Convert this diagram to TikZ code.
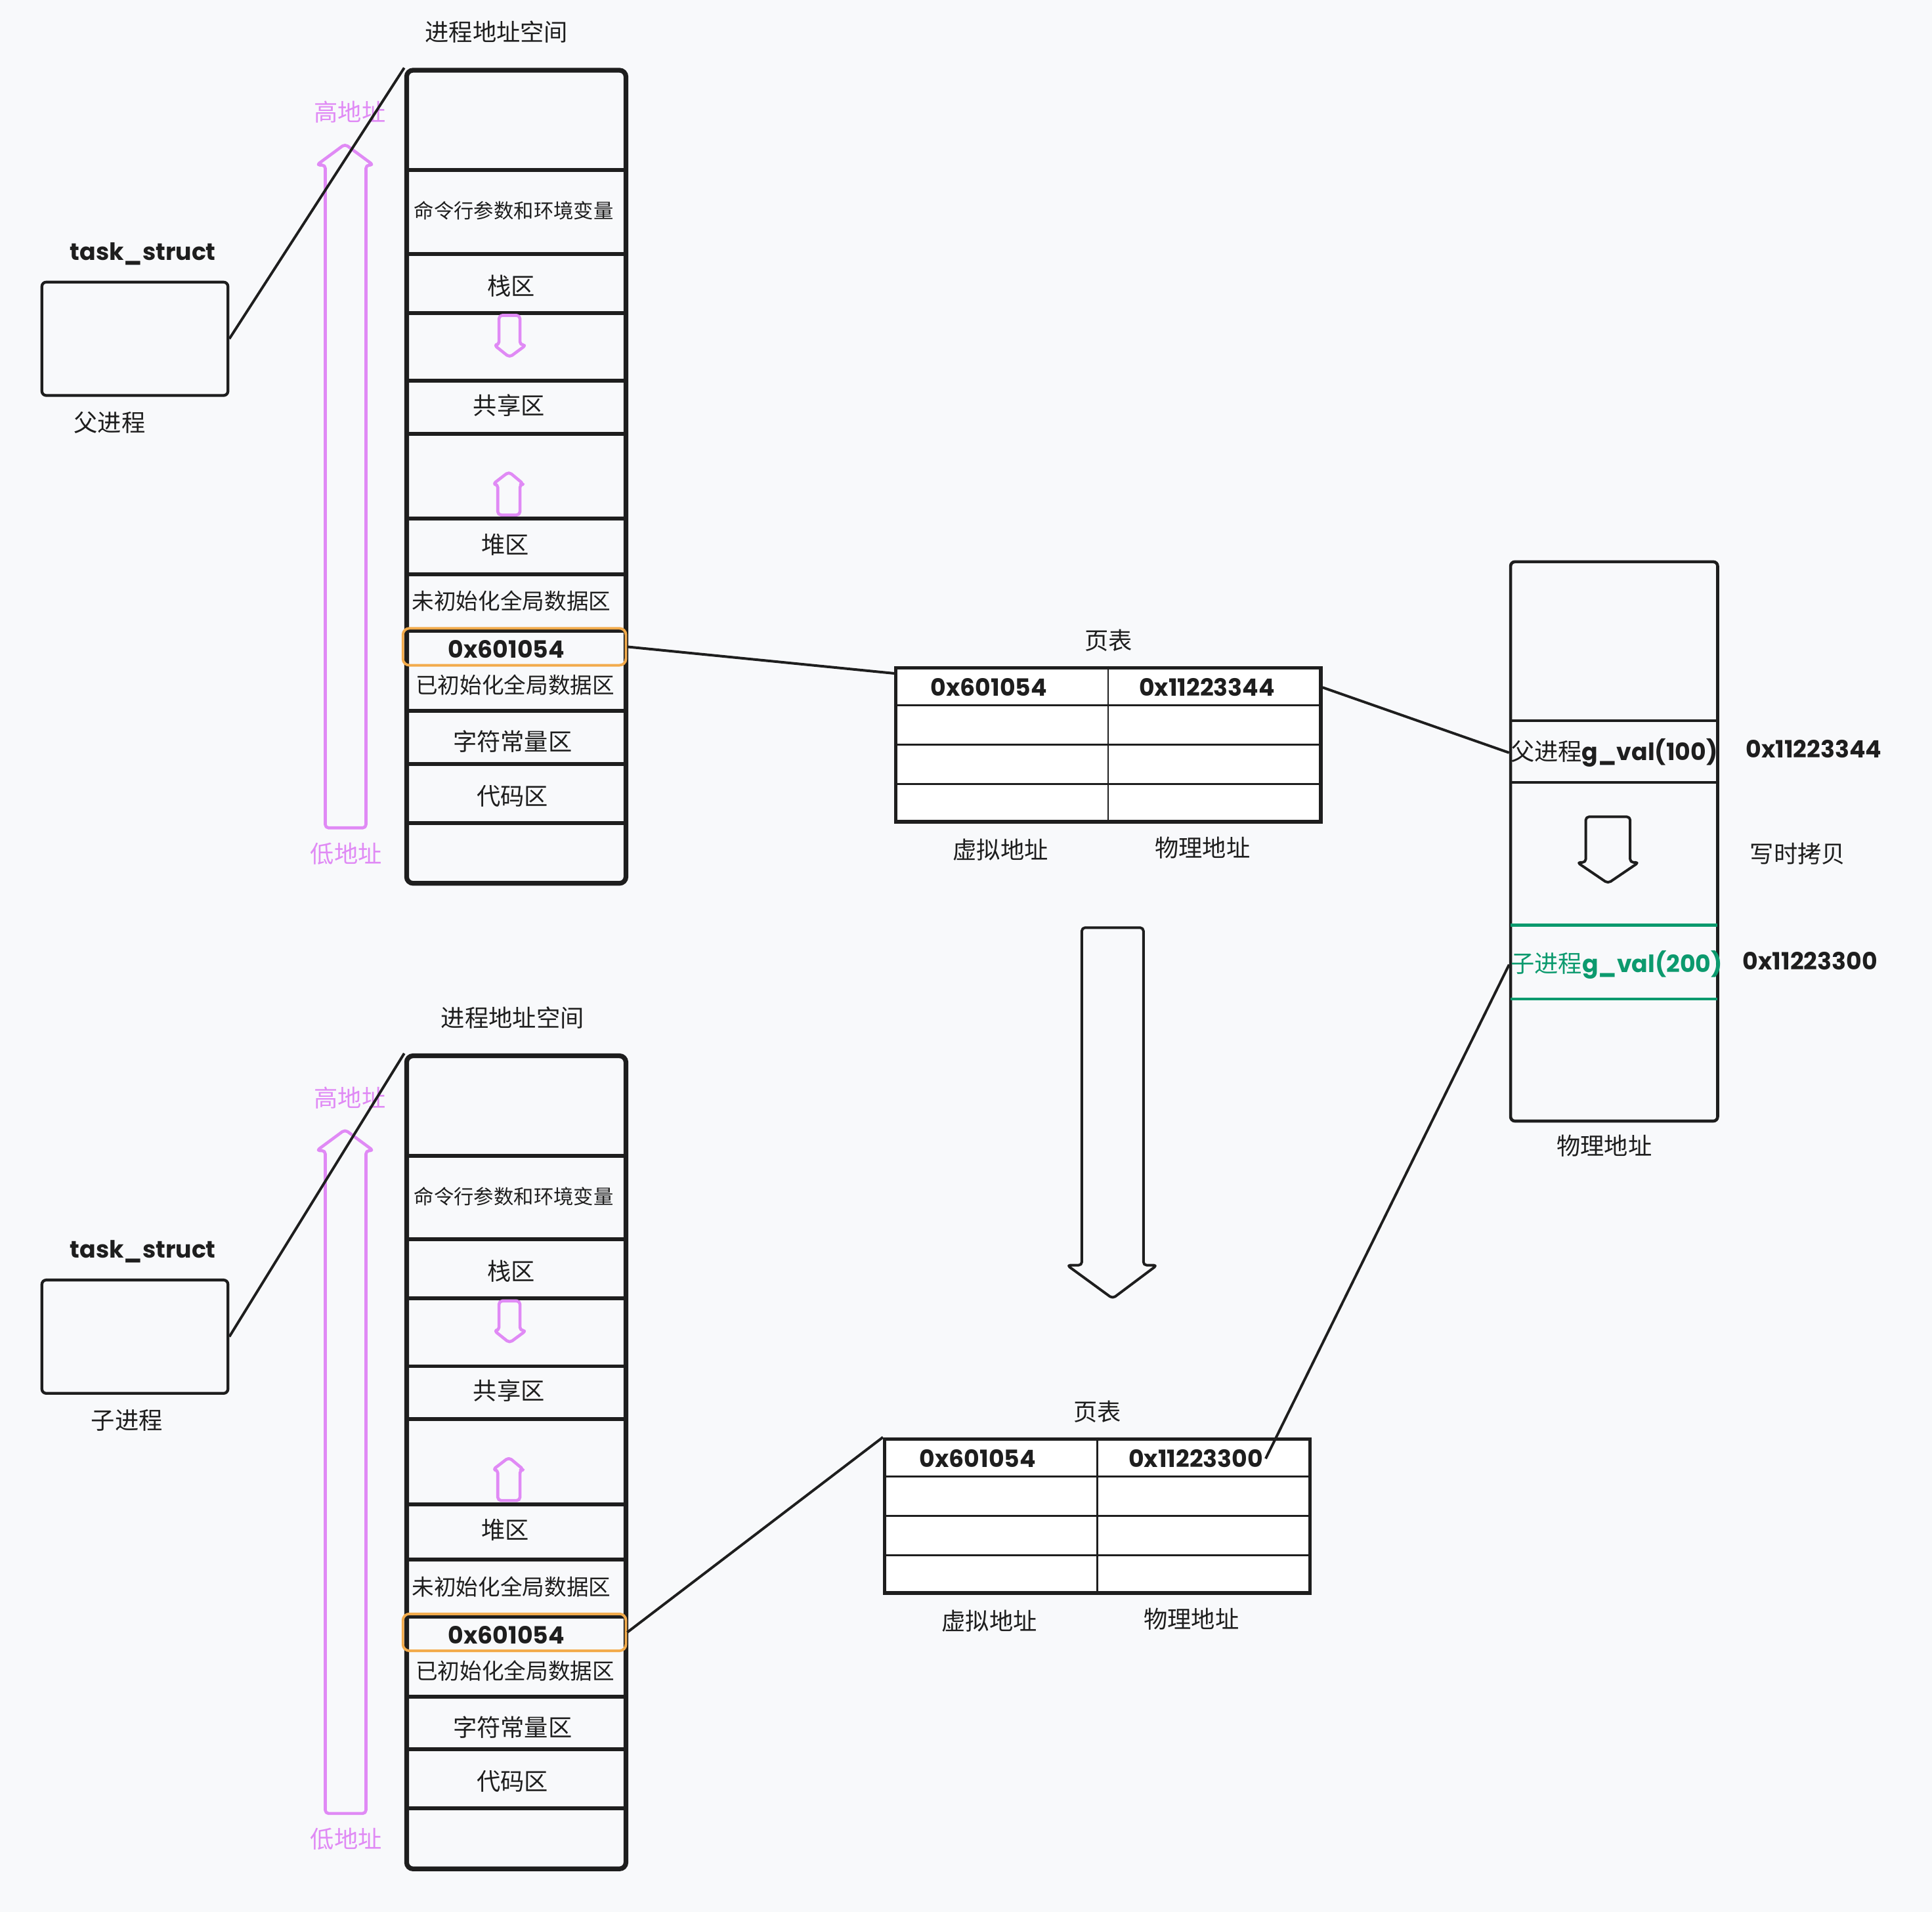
\documentclass[tikz,border=0pt]{standalone}
\usepackage{fontspec}
\setmainfont{Noto Sans CJK SC}
\newfontfamily\hand{Poppins}
\usepackage{tikz}
\usetikzlibrary{calc}

\definecolor{paper}{HTML}{F8F9FB}
\definecolor{ink}{HTML}{1E1E1E}
\definecolor{violetA}{HTML}{E08AF5}
\definecolor{orangeA}{HTML}{F2AB4C}
\definecolor{greenA}{HTML}{0C9A6E}

\begin{document}
\begin{tikzpicture}[
  x=0.2mm, y=-0.2mm,
  txt/.style={font=\fontsize{11}{12}\selectfont, text=ink, inner sep=1pt},
  midtxt/.style={txt, font=\fontsize{10.2}{12}\selectfont},
  smalltxt/.style={txt, font=\fontsize{9.2}{11}\selectfont},
  hex/.style={font=\fontsize{11}{12}\hand\bfseries, text=ink, inner sep=1pt},
  memcol/.style={rectangle, draw=ink, line width=2.2pt, rounded corners=3pt, minimum width=35.6mm, minimum height=132mm},
  divider/.style={ink, line width=1.8pt},
  tsbox/.style={rectangle, draw=ink, line width=1.3pt, rounded corners=2pt, minimum width=30.2mm, minimum height=18.4mm},
  hl/.style={rectangle, draw=orangeA, line width=1.2pt, rounded corners=3pt, minimum width=36.2mm, minimum height=6mm},
  pinkarrow/.style={draw=violetA, line width=1.4pt, rounded corners=1.5pt, line join=round},
  bigarrow/.style={draw=ink, line width=1.2pt, rounded corners=1.5pt, line join=round},
  ptable/.style={rectangle, draw=ink, fill=white, line width=1.6pt, minimum width=69mm, minimum height=25mm},
  cellline/.style={ink, line width=0.7pt},
  phys/.style={rectangle, draw=ink, line width=1.4pt, rounded corners=2pt, minimum width=33.6mm, minimum height=90.8mm},
  slot/.style={rectangle, minimum width=33.6mm, inner sep=0pt},
  link/.style={ink, line width=1.2pt}
]
\fill[paper] (0,0) rectangle (1568,1552);
\useasboundingbox (0,0) rectangle (1568,1552);

% parent and child address spaces
\foreach \n/\dy/\who/\wx/\te/\tx in {A/0/父进程/89/0/403, B/800/子进程/103/10/416} {
\begin{scope}[yshift={-\dy*0.2mm}]
  \node[txt] (ttl\n) at (\tx,26) {进程地址空间};
  \node[memcol] (vm\n) at (419,387) {};
  \foreach \yy in {138,206,254,309,352,421,466,512,577,620,668}
    \draw[divider] (330,\yy) -- (508,\yy);
  \draw[pinkarrow] (280,117) -- (303,134) -- (297,134) -- (297,672) -- (264,672) -- (264,134) -- (257,134) -- cycle;
  \node[txt, text=violetA] (hi\n) at (284,91) {高地址};
  \node[txt, text=violetA] (lo\n) at (281,693) {低地址};
  \draw[pinkarrow] (405,256) -- (422,256) -- (422,280) -- (427,280) -- (413.5,290) -- (401,280) -- (405,280) -- cycle;
  \draw[pinkarrow] (413,383) -- (425,393) -- (422,393) -- (422,418) -- (404,418) -- (404,393) -- (400,393) -- cycle;
  \node[smalltxt] (args\n) at (417,171) {命令行参数和环境变量};
  \node[txt] (stack\n) at (415,232) {栈区};
  \node[txt] (shm\n) at (413,329) {共享区};
  \node[txt] (heap\n) at (410,442) {堆区};
  \node[midtxt] (bss\n) at (415,488) {未初始化全局数据区};
  \node[hl] (hl\n) at (417.5,525) {};
  \node[hex] (addr\n) at (411,527) {0x601054};
  \node[midtxt] (data\n) at (418,556) {已初始化全局数据区};
  \node[txt] (rodata\n) at (416,602) {字符常量区};
  \node[txt] (code\n) at (416,646) {代码区};
  \node[tsbox] (ts\n) at (109.5,275+\te) {};
  \node[hex] (tsl\n) at (116,206+\te) {task\_struct};
  \node[txt] (who\n) at (\wx,343+\te) {\who};
  \draw[link] (ts\n.east) -- (vm\n.north west);
\end{scope}
}

% page tables
\foreach \n/\cx/\cy/\pa in {A/899.5/604.5/0x11223344, B/890.5/1230.5/0x11223300} {
  \node[ptable] (tab\n) at (\cx,\cy) {};
  \draw[cellline] (tab\n.north) -- (tab\n.south);
  \foreach \k in {1,2,3}
    \draw[cellline] ($(tab\n.north west)!\k/4!(tab\n.south west)$) -- ($(tab\n.north east)!\k/4!(tab\n.south east)$);
  \node[txt] (pt\n) at (\cx,\cy-84.5) {页表};
  \node[hex] (va\n) at (\cx-97,\cy-46.5) {0x601054};
  \node[hex] (pa\n) at (\cx+80,\cy-46.5) {\pa};
  \node[txt] (vl\n) at (\cx-87.5,\cy+85.5) {虚拟地址};
  \node[txt] (pl\n) at (\cx+76.5,\cy+83.5) {物理地址};
}

% physical memory
\node[phys] (pm) at (1310,683) {};
\draw[divider, line width=1.3pt] (1226,585) -- (1394,585);
\draw[divider, line width=1.3pt] (1226,635) -- (1394,635);
\draw[greenA, line width=1.3pt] (1226,751) -- (1394,751);
\draw[greenA, line width=1.3pt] (1226,811) -- (1394,811);
\node[slot, txt, inner sep=0pt] (parRow) at (1310,611) {父进程{\hand\bfseries g\_val(100)}};
\node[slot, txt, inner sep=0pt, text=greenA] (chRow) at (1312,783) {子进程{\hand\bfseries g\_val(200)}};
\draw[bigarrow] (1287,663) -- (1323,663) -- (1323,700) -- (1330,700) -- (1305,717) -- (1280,700) -- (1287,700) -- cycle;
\node[hex] (pAddr) at (1472,608) {0x11223344};
\node[txt] (cow) at (1459,693) {写时拷贝};
\node[hex] (cAddr) at (1469,780) {0x11223300};
\node[txt] (pmLbl) at (1302,930) {物理地址};

\draw[bigarrow] (878,753) -- (928,753) -- (928,1027) -- (939,1027) -- (903,1054) -- (866,1027) -- (878,1027) -- cycle;

\draw[link] (hlA.east) -- ([yshift=-1.2mm]tabA.north west);
\draw[link] (tabA.east |- paA) -- (pm.west |- parRow);
\draw[link] (hlB.east) -- (tabB.north west);
\draw[link] (paB.east) -- (pm.west |- chRow);
\end{tikzpicture}
\end{document}
